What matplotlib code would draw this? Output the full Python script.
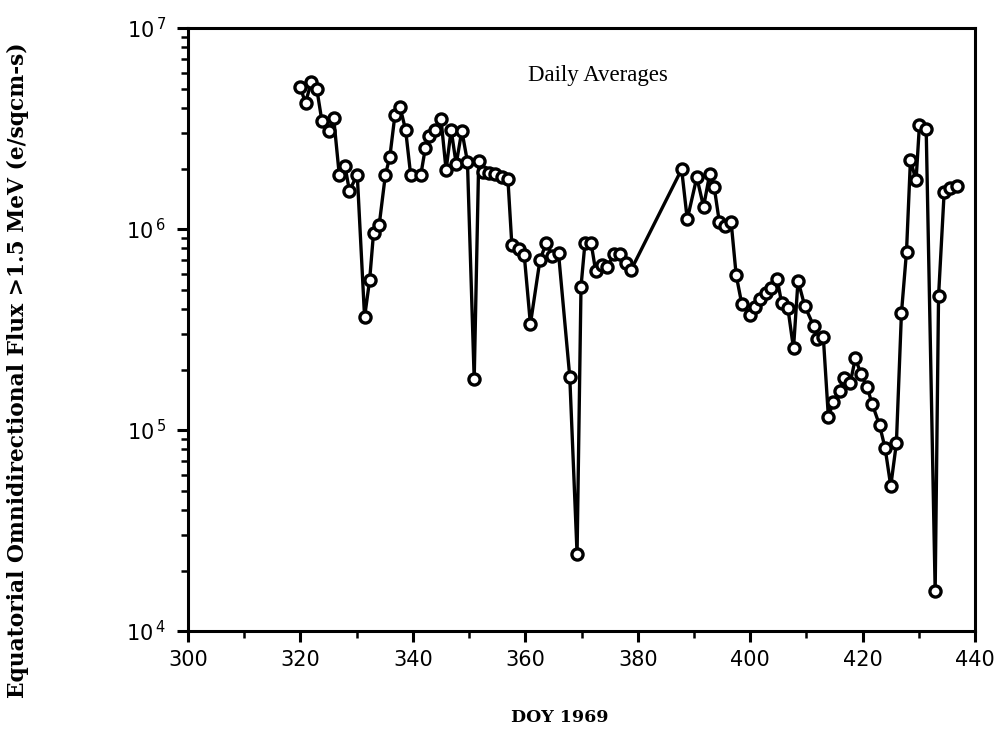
import matplotlib
matplotlib.use("Agg")
import matplotlib.pyplot as plt
from matplotlib.ticker import FixedLocator, LogLocator, NullFormatter, FixedFormatter
import numpy as np

# Day of year (1969, continuing past 365) and daily average flux
days = [319.9, 320.9, 321.9, 322.9, 323.8, 325.0, 325.9, 326.9, 327.9, 328.7,
        330.1, 331.4, 332.3, 333.0, 334.0, 335.1, 335.9, 336.8, 337.7, 338.7,
        339.6, 341.4, 342.2, 342.9, 343.9, 345.0, 345.9, 346.8, 347.7, 348.7,
        349.7, 350.9, 351.7, 352.5, 353.6, 354.6, 355.8, 356.9, 357.6, 358.8,
        359.8, 360.9, 362.6, 363.7, 364.8, 365.9, 367.9, 369.2, 369.9, 370.6,
        371.7, 372.5, 373.6, 374.6, 375.7, 376.9, 377.9, 378.8, 387.8, 388.8,
        390.5, 391.7, 392.8, 393.6, 394.5, 395.5, 396.6, 397.5, 398.5, 399.9,
        400.9, 401.8, 402.8, 403.7, 404.8, 405.6, 406.7, 407.7, 408.5, 409.7,
        411.3, 411.9, 413.0, 413.9, 414.8, 415.9, 416.6, 417.8, 418.7, 419.7,
        420.8, 421.7, 423.0, 424.0, 425.0, 426.0, 426.9, 427.8, 428.5, 429.5,
        430.1, 431.3, 432.9, 433.5, 434.5, 435.5, 436.8]
log_flux = [6.708, 6.628, 6.730, 6.697, 6.539, 6.488, 6.554, 6.269, 6.315, 6.191,
            6.269, 5.561, 5.746, 5.982, 6.020, 6.269, 6.360, 6.567, 6.608, 6.493,
            6.269, 6.269, 6.401, 6.464, 6.493, 6.546, 6.294, 6.493, 6.323, 6.489,
            6.335, 5.252, 6.338, 6.285, 6.280, 6.274, 6.260, 6.247, 5.920, 5.899,
            5.871, 5.527, 5.846, 5.929, 5.866, 5.879, 5.265, 4.383, 5.713, 5.929,
            5.929, 5.793, 5.821, 5.809, 5.876, 5.876, 5.832, 5.796, 6.297, 6.048,
            6.257, 6.111, 6.274, 6.207, 6.036, 6.015, 6.036, 5.771, 5.627, 5.572,
            5.613, 5.650, 5.680, 5.708, 5.751, 5.630, 5.606, 5.406, 5.743, 5.617,
            5.517, 5.451, 5.463, 5.066, 5.141, 5.196, 5.257, 5.235, 5.357, 5.279,
            5.212, 5.129, 5.025, 4.909, 4.721, 4.934, 5.581, 5.887, 6.343, 6.242,
            6.517, 6.500, 4.199, 5.665, 6.184, 6.206, 6.215]
flux = [10 ** v for v in log_flux]

x_ticks = [300, 320, 340, 360, 380, 400, 420, 440]
y_ticks = [1e4, 1e5, 1e6, 1e7]
y_tick_labels = [r"10$^{\,4}$", r"10$^{\,5}$", r"10$^{\,6}$", r"10$^{\,7}$"]

plt.rcParams["mathtext.fontset"] = "dejavusans"

fig = plt.figure(figsize=(10.04, 7.37), dpi=100)
ax = fig.add_axes([0.1873, 0.1438, 0.7839, 0.8182])

ax.plot(days, flux, color="black", lw=2.4, marker="o", ms=8,
        mfc="white", mec="black", mew=2.4, zorder=3)

ax.set_yscale("log")
ax.set_xlim(300, 440)
ax.set_ylim(1e4, 1e7)

ax.xaxis.set_major_locator(FixedLocator(x_ticks))
ax.xaxis.set_minor_locator(FixedLocator(np.arange(310, 440, 20)))
ax.yaxis.set_major_locator(FixedLocator(y_ticks))
ax.yaxis.set_major_formatter(FixedFormatter(y_tick_labels))
ax.yaxis.set_minor_locator(LogLocator(base=10, subs=np.arange(2, 10)))
ax.yaxis.set_minor_formatter(NullFormatter())

for s in ax.spines.values():
    s.set_linewidth(2.2)

ax.tick_params(axis="both", which="major", direction="out", length=8, width=2.2,
               labelsize=15, top=False, right=False)
ax.tick_params(axis="both", which="minor", direction="out", length=5, width=1.8,
               top=False, right=False)
for lab in ax.get_xticklabels() + ax.get_yticklabels():
    lab.set_fontfamily("DejaVu Sans")
ax.tick_params(axis="x", pad=6)
ax.tick_params(axis="y", pad=8)

ax.text(373, 10 ** 6.766, "Daily Averages", ha="center", va="center",
        fontsize=16.5, family="Liberation Serif")

fig.text(560 / 1004, 1 - 718 / 737, "DOY 1969", ha="center", va="center",
         fontsize=12.5, fontweight="bold", family="DejaVu Serif")
fig.text(18 / 1004, 1 - 370 / 737, "Equatorial Omnidirectional Flux >1.5 MeV (e/sqcm-s)",
         ha="center", va="center", rotation=90, fontsize=15.7, fontweight="bold",
         family="DejaVu Serif")

fig.savefig("out.png", dpi=100)
